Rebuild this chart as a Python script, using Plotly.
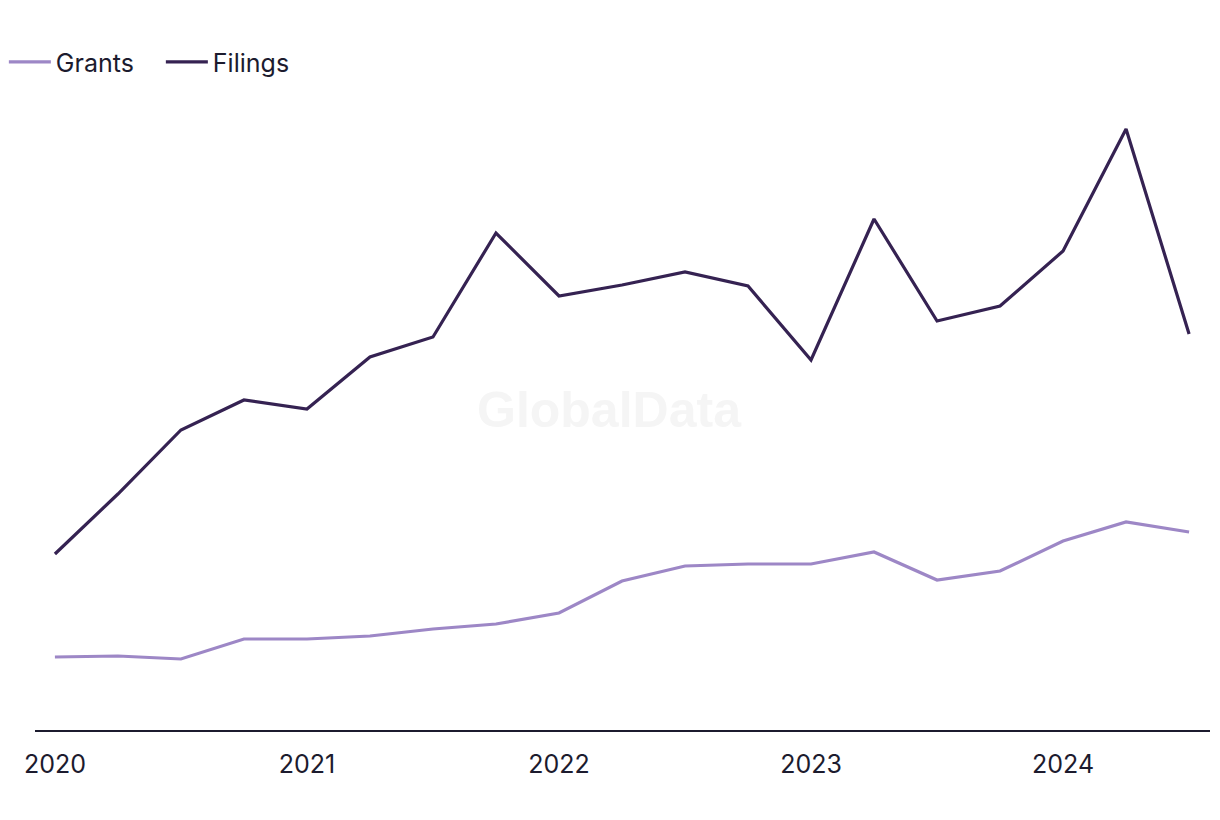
import plotly.graph_objects as go

quarters = [2020 + i * 0.25 for i in range(19)]
filings = [176, 236, 300, 330, 321, 373, 393, 497, 434, 445, 458, 444, 370, 511, 409, 424, 479, 601, 396]
grants = [73, 74, 71, 91, 91, 94, 101, 106, 117, 149, 164, 166, 166, 178, 150, 159, 189, 208, 198]
tick_vals = [2020, 2021, 2022, 2023, 2024]
tick_text = ["2020", "2021", "2022", "2023", "2024"]

fig = go.Figure()
fig.add_trace(go.Scatter(x=quarters, y=grants, mode="lines", name="Grants",
                         line=dict(color="#9d87c6", width=3.2)))
fig.add_trace(go.Scatter(x=quarters, y=filings, mode="lines", name="Filings",
                         line=dict(color="#352252", width=3.2)))

fig.add_annotation(text="<b>GlobalData</b>", x=0.489, y=0.508, xref="paper", yref="paper",
                   showarrow=False, font=dict(family="Liberation Sans", size=50, color="#f5f5f5"))

fig.update_layout(
    width=1220, height=820,
    margin=dict(l=35, r=10, t=100, b=90, autoexpand=False),
    paper_bgcolor="white", plot_bgcolor="white",
    font=dict(family="Inter", size=25, color="#1c1b2e"),
    showlegend=True,
    legend=dict(orientation="h", x=-0.0265, y=1.06, xanchor="left", yanchor="middle",
                font=dict(size=25, color="#1c1b2e"), itemwidth=42, traceorder="normal",
                entrywidth=100, entrywidthmode="pixels"),
    xaxis=dict(range=[2019.921, 2024.583], tickvals=tick_vals, ticktext=tick_text,
               showgrid=False, zeroline=False, showline=True, linecolor="#1c1b2e", linewidth=2,
               ticks="", ticklabelstandoff=11),
    yaxis=dict(range=[0, 630], visible=False, showgrid=False, zeroline=False),
)

fig.write_html("out.html", config={"displayModeBar": False},
               post_script="document.body.style.margin='0';")
